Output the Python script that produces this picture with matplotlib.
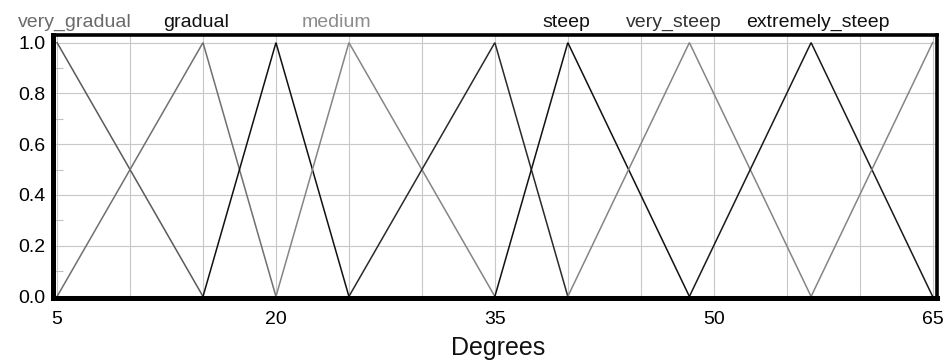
"""Triangular membership functions for slope (degrees)."""
import matplotlib
matplotlib.use("Agg")
import matplotlib.pyplot as plt

plt.rcParams.update({
    "font.family": ["Liberation Sans", "DejaVu Sans"],
    "font.size": 14,
})

# peaks of the triangular sets, in degrees
PEAKS = [5, 15, 20, 25, 35, 40, 48.33, 56.67, 65]
NAMES = ["very_gradual", "gradual", None, "medium", None,
         "steep", "very_steep", "extremely_steep", None]
LINE_COLORS = ["#5a5a5a", "#707070", "#111111", "#858585", "#2a2a2a",
               "#111111", "#858585", "#1a1a1a", "#858585"]
TEXT_COLORS = ["#6a6a6a", "#111111", None, "#8c8c8c", None,
               "#111111", "#333333", "#111111", None]
# nudges (points) so the names do not overlap
LABEL_DX = [13, -5, 0, -9, 0, -1, -11, 5, 0]

X_TICKS = [5, 20, 35, 50, 65]
Y_TICKS = [0.0, 0.2, 0.4, 0.6, 0.8, 1.0]

fig = plt.figure(figsize=(9.45, 3.64), dpi=100)
ax = fig.add_axes([0.0556, 0.1813, 0.9355, 0.7225])

grid_x = list(range(5, 66, 5))
ax.set_xticks(grid_x)
ax.set_xticklabels([str(v) if v in X_TICKS else "" for v in grid_x])
ax.set_yticks(Y_TICKS)
ax.set_yticklabels([f"{v:.1f}" for v in Y_TICKS])
ax.set_yticks([0.1, 0.3, 0.5, 0.7, 0.9], minor=True)
ax.grid(True, color="#c8c8c8", linewidth=0.8)
ax.set_axisbelow(True)
ax.tick_params(axis="y", which="major", length=0, pad=5, labelsize=14)
ax.tick_params(axis="x", which="major", length=0, pad=9, labelsize=14)
ax.tick_params(axis="y", which="minor", direction="in", length=7,
               width=0.8, color="#c0c0c0")

for i, p in enumerate(PEAKS):
    left = PEAKS[i - 1] if i > 0 else p
    right = PEAKS[i + 1] if i < len(PEAKS) - 1 else p
    ax.plot([left, p, right], [0 if left != p else 1, 1, 0 if right != p else 1],
            color=LINE_COLORS[i], linewidth=1.1, solid_joinstyle="miter")
    if NAMES[i]:
        ax.annotate(NAMES[i], xy=(p, 1.03), xycoords=("data", "data"),
                    xytext=(LABEL_DX[i], 3), textcoords="offset points",
                    ha="center", va="bottom", fontsize=14,
                    color=TEXT_COLORS[i], annotation_clip=False)

ax.set_xlim(4.69, 65.27)
ax.set_ylim(-0.006, 1.03)

for side, w in (("left", 3.6), ("bottom", 3.6), ("top", 2.6), ("right", 2.6)):
    ax.spines[side].set_linewidth(w)
    ax.spines[side].set_color("black")

fig.text(498 / 945, 1 - 348 / 364, "Degrees", ha="center", va="center",
         fontsize=18, color="#111111")

fig.savefig("out.png", dpi=100)
